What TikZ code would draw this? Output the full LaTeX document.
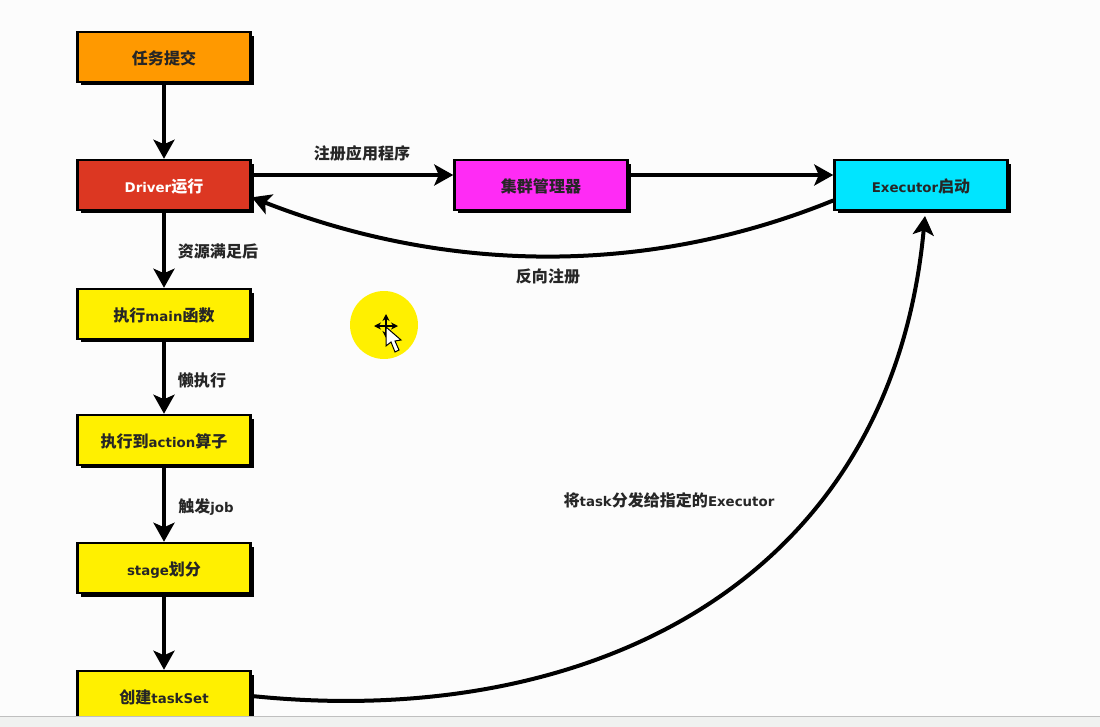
\documentclass[tikz,border=0pt]{standalone}
\usepackage{fontspec}
\setmainfont{DejaVu Sans}
\newfontfamily\cjkfont[Scale=1.2]{Noto Sans CJK SC}
\newcommand{\zh}[1]{{\cjkfont #1}}
\usetikzlibrary{arrows.meta}
\usetikzlibrary{shadows}
\definecolor{boxorange}{HTML}{FF9900}
\definecolor{boxred}{HTML}{DC3722}
\definecolor{boxyellow}{HTML}{FFF000}
\definecolor{boxpink}{HTML}{FF2BF5}
\definecolor{boxcyan}{HTML}{00E5FF}
\definecolor{barfill}{HTML}{F0F1F0}
\begin{document}
\begin{tikzpicture}[x=0.02cm,y=-0.02cm,text depth=1pt]
\tikzstyle{every node}=[font=\bfseries\fontsize{7.6}{9}\selectfont,text=black!85]
\tikzstyle{flowbox}=[draw=black,line width=0.05cm,minimum width=3.46cm,minimum height=1cm,inner sep=0pt,
  text height=9pt,text depth=0pt,
  drop shadow={shadow xshift=0.07cm,shadow yshift=-0.07cm,opacity=1,fill=black}]
\tikzstyle{flowline}=[draw=black,line width=0.08cm,-{Stealth[length=0.38cm,width=0.42cm,inset=0.09cm]}]
\useasboundingbox (0,0) rectangle (1100,727);
\fill[white!99!black] (0,0) rectangle (1100,727);
\node[flowbox,fill=boxorange] (submit) at (164,57) {\zh{任务提交}};
\node[flowbox,fill=boxred,text=white] (driver) at (164,185) {Driver\zh{运行}};
\node[flowbox,fill=boxyellow] (mainfn) at (164,314) {\zh{执行}main\zh{函数}};
\node[flowbox,fill=boxyellow] (action) at (164,440) {\zh{执行到}action\zh{算子}};
\node[flowbox,fill=boxyellow] (stage) at (164,568) {stage\zh{划分}};
\node[flowbox,fill=boxyellow] (taskset) at (164,696) {\zh{创建}taskSet};
\node[flowbox,fill=boxpink] (manager) at (541,185) {\zh{集群管理器}};
\node[flowbox,fill=boxcyan] (executor) at (921,185) {Executor\zh{启动}};
\coordinate (lane) at (0,175);
\coordinate (execin) at (925,216);
\draw[flowline] (submit) -- (driver);
\draw[flowline] (driver) -- (mainfn);
\draw[flowline] (mainfn) -- (action);
\draw[flowline] (action) -- (stage);
\draw[flowline] (stage) -- (taskset);
\draw[flowline] (driver.east |- lane) -- (manager.west |- lane);
\draw[flowline] (manager.east |- lane) -- (executor.west |- lane);
\draw[flowline] (executor.190) .. controls (650,275) and (450,275) .. (driver.-8);
\draw[flowline] (taskset.east) .. controls (580,730) and (890,590) .. (execin);
\node (lblregister) at (362,153) {\zh{注册应用程序}};
\node (lblreverse) at (548,276) {\zh{反向注册}};
\node (lblresource) at (218,252) {\zh{资源满足后}};
\node (lbllazy) at (202,380) {\zh{懒执行}};
\node (lbljob) at (206,506) {\zh{触发}job};
\node (lbltask) at (669,500) {\zh{将}task\zh{分发给指定的}Executor};
\node[circle,fill=boxyellow,minimum size=1.36cm,inner sep=0pt] (cursorspot) at (384,325) {};
\draw[black,line width=0.03cm,{Stealth[length=0.14cm,width=0.14cm]}-{Stealth[length=0.14cm,width=0.14cm]}] (374,326) -- (398,326);
\draw[black,line width=0.03cm,{Stealth[length=0.14cm,width=0.14cm]}-{Stealth[length=0.14cm,width=0.14cm]}] (386,314) -- (386,338);
\draw[fill=white,draw=black,line width=0.02cm] (386,327) -- (386,346) -- (391,342) -- (395,352) -- (399,350) -- (395,341) -- (401,340) -- cycle;
\fill[barfill] (0,716) rectangle (1100,727);
\draw[black!25,line width=0.02cm] (0,716) -- (1100,716);
\end{tikzpicture}
\end{document}
